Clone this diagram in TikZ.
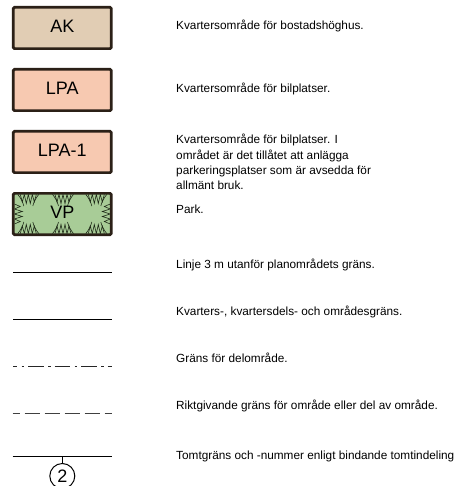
\documentclass[tikz,border=0pt]{standalone}
\usepackage{fontspec}
\setmainfont{Liberation Sans}
\definecolor{akfill}{HTML}{E1CDB4}
\definecolor{lpafill}{HTML}{F7C9B1}
\definecolor{vpfill}{HTML}{A8CC97}
\definecolor{bordercol}{HTML}{2B2017}
\definecolor{zzcol}{HTML}{1F2A18}
\begin{document}
\begin{tikzpicture}[x=1pt,y=-1pt,
  legendbox/.style={draw=bordercol, line width=2.7pt, rounded corners=1.2pt,
    minimum width=98pt, minimum height=41.3pt, inner sep=0pt,
    font=\fontsize{18}{18}\selectfont, text height=12.9pt, text depth=3.5pt},
  desc/.style={anchor=base west, inner sep=0pt, align=left,
    font=\fontsize{11.8}{15.2}\selectfont},
  zz/.style={draw=zzcol, line width=0.6pt, line join=miter},
  solidline/.style={draw=black, line width=1pt},
  dashdotline/.style={draw=black!85, line width=1pt,
    dash pattern=on 15.5pt off 4.5pt on 2.5pt off 4pt, dash phase=11.5pt},
  dashedline/.style={draw=black!75, line width=1pt,
    dash pattern=on 15.7pt off 4.3pt, dash phase=8pt},
  numcircle/.style={circle, draw=black, line width=1pt, minimum size=25pt,
    inner sep=0pt, font=\fontsize{18}{18}\selectfont}
]
\useasboundingbox (0,0) rectangle (461,486);

% legend boxes
\node[legendbox, fill=akfill]  (ak)   at (62.3,28)  {AK};
\node[legendbox, fill=lpafill] (lpa)  at (62.3,90)  {LPA};
\node[legendbox, fill=lpafill] (lpa1) at (62.3,152) {LPA-1};
\node[legendbox, fill=vpfill]  (vp)   at (62.3,214) {VP};

% park pattern
\begin{scope}[shift={(vp.center)}]
  \clip (-47.6,-19.3) rectangle (47.6,19.3);
  \foreach \cx in {-34,0.7,34} {
    \foreach \ys in {1,-1} {
      \begin{scope}[shift={(\cx,0)}, yscale=\ys]
        \draw[zz] (-8,-19.6) -- (-6,-12) -- (-4,-19.6) -- (-2,-10.5) -- (0,-19.6)
          -- (2,-10.5) -- (4,-19.6) -- (6,-12) -- (8,-19.6);
        \draw[zz] (-10.5,-19.6) .. controls (-7.5,-16) and (-5.5,-12) .. (-4.5,-8);
        \draw[zz] (10.5,-19.6) .. controls (7.5,-16) and (5.5,-12) .. (4.5,-8);
      \end{scope}
    }
  }
  \foreach \xs in {1,-1} {
    \begin{scope}[xscale=\xs]
      \draw[zz] (-48,-10) -- (-42,-7.5) -- (-48,-5) -- (-40,-2.5) -- (-48,0)
        -- (-40,2.5) -- (-48,5) -- (-42,7.5) -- (-48,10);
    \end{scope}
  }
\end{scope}

% descriptions
\node[desc] (akd)   at (176,29.3)  {Kvartersområde för bostadshöghus.};
\node[desc] (lpad)  at (176,92.3)  {Kvartersområde för bilplatser.};
\node[desc] (lpa1d) at (176,189.5) {Kvartersområde för bilplatser. I\\området är det tillåtet att anlägga\\parkeringsplatser som är avsedda för\\allmänt bruk.};
\node[desc] (vpd)   at (176,213.7) {Park.};

% line symbols
\coordinate (l1a) at (13,272);   \coordinate (l1b) at (112,272);
\coordinate (l2a) at (13,319);   \coordinate (l2b) at (112,319);
\coordinate (l3a) at (13,366.7); \coordinate (l3b) at (112,366.7);
\coordinate (l4a) at (12.7,413.3); \coordinate (l4b) at (112,413.3);
\coordinate (l5a) at (12.5,456.7); \coordinate (l5b) at (111.5,456.7);
\coordinate (tick) at (62.3,456.7);

\draw[solidline] (l1a) -- (l1b);
\draw[solidline] (l2a) -- (l2b);
\draw[dashdotline] (l3a) -- (l3b);
\draw[dashedline] (l4a) -- (l4b);
\draw[solidline] (l5a) -- (l5b);
\node[numcircle] (num) at (62.3,476) {2};
\draw[solidline] (tick) -- (num.north);

\node[desc] (l1d) at (176,268.3) {Linje 3 m utanför planområdets gräns.};
\node[desc] (l2d) at (176,315)   {Kvarters-, kvartersdels- och områdesgräns.};
\node[desc] (l3d) at (176,362.3) {Gräns för delområde.};
\node[desc] (l4d) at (176,409.3) {Riktgivande gräns för område eller del av område.};
\node[desc] (l5d) at (176,459)   {Tomtgräns och -nummer enligt bindande tomtindeling};
\end{tikzpicture}
\end{document}
